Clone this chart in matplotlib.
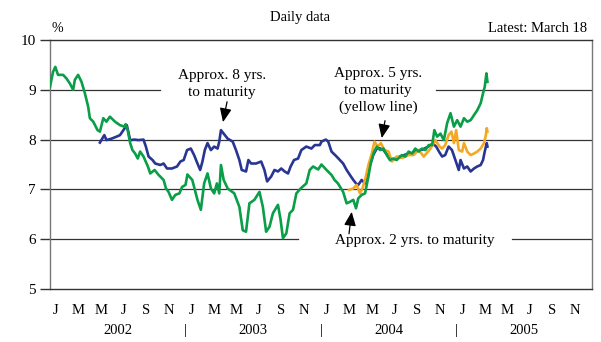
import numpy as np
import matplotlib
matplotlib.use("Agg")
import matplotlib.pyplot as plt
import matplotlib.transforms as mtransforms

plt.rcParams['font.family'] = ['Liberation Serif', 'DejaVu Serif']

# x values are months since 1 Jan 2002
t_2yr = [0, 0.27, 0.47, 0.71, 1.16, 1.45, 1.75, 2.05, 2.2, 2.49, 2.79, 3.09, 3.38, 3.53, 3.83,
         4.21, 4.42, 4.72, 5.0, 5.3, 5.76, 6.2, 6.59, 6.7, 6.88, 7.1, 7.3, 7.54, 7.77, 7.98,
         8.28, 8.67, 8.88, 9.26, 9.62, 10.06, 10.27, 10.5, 10.8, 11.1, 11.46, 11.7, 12.0, 12.17,
         12.6, 13.06, 13.36, 13.65, 13.95, 14.25, 14.54, 14.78, 14.99, 15.14, 15.38, 15.73,
         16.32, 16.77, 17.07, 17.36, 17.66, 18.1, 18.55, 18.85, 19.14, 19.44, 19.74, 20.19,
         20.42, 20.63, 20.93, 21.22, 21.52, 21.82, 22.2, 22.7, 23.0, 23.3, 23.75, 24.04, 24.49,
         24.93, 25.2, 25.5, 25.96, 26.27, 26.56, 26.86, 27.1, 27.3, 27.6, 27.9, 28.2, 28.4,
         28.64, 28.94, 29.23, 29.53, 29.83, 30.1, 30.4, 30.7, 31.17, 31.46, 31.76, 32.06, 32.35,
         32.65, 32.95, 33.24, 33.54, 33.84, 34.04, 34.28, 34.58, 34.88, 35.17, 35.47, 35.77,
         36.06, 36.36, 36.66, 36.95, 37.25, 37.55, 37.84, 38.14, 38.35, 38.5, 38.65, 38.74]
y_2yr = [9.06, 9.36, 9.46, 9.30, 9.30, 9.23, 9.13, 9.0, 9.2, 9.30, 9.16, 8.93, 8.66, 8.43, 8.36,
         8.19, 8.16, 8.43, 8.36, 8.46, 8.36, 8.29, 8.26, 8.31, 8.19, 7.93, 7.79, 7.72, 7.62, 7.76,
         7.66, 7.46, 7.32, 7.39, 7.29, 7.19, 7.02, 6.95, 6.79, 6.89, 6.92, 7.05, 7.09, 7.30,
         7.19, 6.79, 6.59, 7.12, 7.32, 7.02, 6.92, 7.12, 6.92, 7.49, 7.19, 7.02,
         6.92, 6.65, 6.18, 6.15, 6.72, 6.79, 6.95, 6.65, 6.15, 6.25, 6.52, 6.69,
         6.39, 6.02, 6.12, 6.52, 6.59, 6.92, 7.02, 7.12, 7.39, 7.46, 7.40, 7.50, 7.39,
         7.29, 7.19, 7.12, 6.95, 6.72, 6.75, 6.79, 6.62, 6.82, 6.89, 6.92, 7.26, 7.52,
         7.72, 7.86, 7.79, 7.82, 7.69, 7.59, 7.62, 7.59, 7.69, 7.66, 7.76, 7.72, 7.82,
         7.76, 7.82, 7.79, 7.89, 7.89, 8.19, 8.06, 8.12, 7.99, 8.33, 8.53, 8.26,
         8.39, 8.26, 8.43, 8.36, 8.39, 8.49, 8.59, 8.73, 8.93, 9.06, 9.33, 9.16]

t_8yr = [4.42, 4.81, 5.0, 5.46, 5.9, 6.2, 6.5, 6.8, 7.1, 7.48, 7.84, 8.28, 8.49, 8.73, 9.08,
         9.32, 9.77, 10.06, 10.36, 10.8, 11.25, 11.55, 11.84, 12.14, 12.47, 12.76, 13.06, 13.3,
         13.5, 13.71, 13.95, 14.25, 14.54, 14.84, 14.99, 15.14, 15.38, 15.73, 16.18, 16.47,
         16.77, 16.98, 17.36, 17.57, 17.81, 18.25, 18.7, 18.99, 19.23, 19.59, 19.88, 20.19,
         20.48, 20.78, 21.08, 21.31, 21.61, 21.97, 22.26, 22.7, 23.15, 23.45, 23.9, 24.04,
         24.43, 24.64, 24.93, 25.38, 25.67, 25.96, 26.27, 26.56, 26.86, 27.1, 27.3, 27.6, 27.9,
         28.2, 28.64, 29.0, 29.5, 29.9, 30.2, 30.6, 31.0, 31.5, 32.0, 32.5, 33.0, 33.5, 33.9,
         34.2, 34.5, 34.73, 35.0, 35.3, 35.6, 35.9, 36.2, 36.36, 36.66, 36.95, 37.25, 37.55,
         37.84, 38.14, 38.35, 38.5, 38.68, 38.74]
y_8yr = [7.94, 8.09, 7.99, 8.02, 8.06, 8.09, 8.19, 8.29, 7.99, 8.0, 7.99, 8.0, 7.86, 7.66, 7.59,
         7.52, 7.49, 7.52, 7.42, 7.42, 7.46, 7.56, 7.59, 7.79, 7.82, 7.69, 7.52, 7.39,
         7.56, 7.79, 7.93, 7.79, 7.86, 7.82, 7.96, 8.19, 8.12, 8.02, 7.96, 7.79,
         7.59, 7.39, 7.36, 7.59, 7.52, 7.52, 7.56, 7.39, 7.16, 7.26, 7.39, 7.36,
         7.42, 7.36, 7.32, 7.46, 7.59, 7.62, 7.79, 7.86, 7.82, 7.89, 7.89, 7.96,
         8.0, 7.96, 7.76, 7.66, 7.59, 7.52, 7.39, 7.29, 7.19, 7.12, 7.09, 7.19, 7.12,
         7.39, 7.70, 7.84, 7.80, 7.68, 7.58, 7.62, 7.66, 7.70, 7.72, 7.78, 7.80, 7.86, 7.92,
         7.86, 7.74, 7.66, 7.69, 7.86, 7.79, 7.59, 7.39, 7.59, 7.42, 7.46, 7.36, 7.42,
         7.46, 7.49, 7.59, 7.76, 7.93, 7.86]

t_5yr = [26.5, 26.86, 27.16, 27.45, 27.67, 27.9, 28.2, 28.5, 28.73, 29.03, 29.3, 29.62, 29.98,
         30.28, 30.7, 31.17, 31.76, 32.2, 32.65, 33.1, 33.7, 34.13, 34.5, 34.73, 35.0, 35.3,
         35.55, 35.77, 35.97, 36.2, 36.5, 36.66, 36.95, 37.25, 37.55, 37.84, 38.14, 38.44,
         38.6, 38.68, 38.74]
y_5yr = [6.99, 7.02, 7.09, 6.92, 7.02, 7.19, 7.49, 7.72, 7.96, 7.86, 7.93, 7.79, 7.76,
         7.56, 7.66, 7.63, 7.69, 7.69, 7.79, 7.66, 7.82, 7.99, 7.86, 7.82, 7.89, 8.09,
         8.16, 7.93, 8.19, 7.79, 7.76, 7.93, 7.76, 7.69, 7.72, 7.76, 7.82, 7.93,
         8.09, 8.23, 8.16]

month_labels = ['J', 'M', 'M', 'J', 'S', 'N'] * 4
years = ['2002', '2003', '2004', '2005']

fig = plt.figure(figsize=(6.01, 3.42), dpi=100)
ax = fig.add_axes([50 / 601, 53 / 342, 542 / 601, 249 / 342])

ax.set_xlim(0, 48)
ax.set_ylim(5, 10)

# horizontal rules, broken where the annotations sit
gl = dict(color='#333333', lw=0.9, zorder=1)
ax.axhline(8, **gl)
ax.axhline(7, **gl)
ax.axhline(9, xmin=0, xmax=0.203, **gl)
ax.axhline(9, xmin=0.712, xmax=1, **gl)
ax.axhline(6, xmin=0, xmax=0.458, **gl)
ax.axhline(6, xmin=0.852, xmax=1, **gl)

ax.plot(t_8yr, y_8yr, color='#283593', lw=1.9, zorder=3)
ax.plot(t_5yr, y_5yr, color='#f6a823', lw=1.9, zorder=4)
ax.plot(t_2yr, y_2yr, color='#0a9e48', lw=1.9, zorder=5)

for s in ['left', 'right']:
    ax.spines[s].set_color('#777777')
    ax.spines[s].set_linewidth(1.0)
for s in ['top', 'bottom']:
    ax.spines[s].set_color('#333333')
    ax.spines[s].set_linewidth(1.0)

ax.set_yticks([5, 6, 7, 8, 9, 10])
ax.set_yticklabels(['5', '6', '7', '8', '9', '10'])
ax.tick_params(axis='y', direction='out', length=7, width=1.0, color='#333333',
               labelsize=11, pad=3)
ax.set_xticks(np.arange(0, 48, 2) + 0.5)
ax.set_xticklabels(month_labels)
ax.tick_params(axis='x', length=0, labelsize=10.5, pad=10.5)

# year labels and separators under the month letters
trans = mtransforms.blended_transform_factory(ax.transData, ax.transAxes)
for i, yr in enumerate(years):
    ax.text(12 * i + 6, -0.165, yr, transform=trans, ha='center', va='center', fontsize=10.5)
for i in range(1, 4):
    ax.text(12 * i, -0.165, '|', transform=trans, ha='center', va='center', fontsize=11)

fig.text(300 / 601, 1 - 18 / 342, 'Daily data', ha='center', va='center', fontsize=10.5)
fig.text(57 / 601, 1 - 28 / 342, '%', ha='center', va='center', fontsize=10)
fig.text(587 / 601, 1 - 28 / 342, 'Latest: March 18', ha='right', va='center', fontsize=10.5)

arrow = dict(arrowstyle='-|>,head_length=0.7,head_width=0.3', color='black', lw=0.9,
             mutation_scale=12, shrinkA=0, shrinkB=0)
ax.text(15.23, 9.12, 'Approx. 8 yrs.\nto maturity', ha='center', va='center',
        fontsize=11, linespacing=1.35)
ax.annotate('', xy=(15.32, 8.35), xytext=(15.68, 8.76), arrowprops=arrow)
ax.text(29.05, 8.98, 'Approx. 5 yrs.\nto maturity\n(yellow line)', ha='center', va='center',
        fontsize=11, linespacing=1.35)
ax.annotate('', xy=(29.38, 8.03), xytext=(29.67, 8.38), arrowprops=arrow)
ax.text(32.33, 5.98, 'Approx. 2 yrs. to maturity', ha='center', va='center', fontsize=11)
ax.annotate('', xy=(26.72, 6.55), xytext=(26.48, 6.11), arrowprops=arrow)

fig.savefig('out.png', dpi=100)
